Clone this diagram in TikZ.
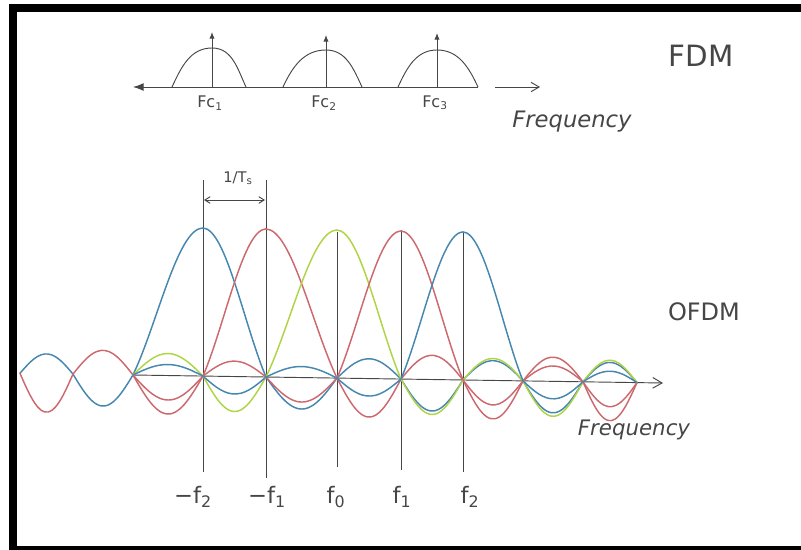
\documentclass[tikz,border=0pt]{standalone}
\usepackage{fontspec}
\setmainfont{DejaVu Sans}
\usetikzlibrary{arrows.meta}
\definecolor{pencil}{RGB}{70,70,70}
\definecolor{sblue}{RGB}{70,135,175}
\definecolor{sred}{RGB}{205,105,110}
\definecolor{sgreen}{RGB}{175,212,70}
\tikzset{
  pencil line/.style={draw=pencil, line width=0.7pt},
  wave/.style={line width=1.1pt, line cap=round, line join=round},
  hand/.style={text=pencil, inner sep=0pt},
  declare function={
    axy(\t)=375+0.0151*(\t-133);
    lobe(\u,\s)=abs(\u)<1 ? 148*sin(180*\u)/(pi*\u) : \s*(28.5*sin(180*abs(\u))-6.5*abs(sin(180*\u)));
  }
}
\begin{document}
\begin{tikzpicture}[x=0.75pt,y=-0.75pt]
\useasboundingbox (0,0) rectangle (801,550);
\draw[pencil line,{Latex[length=8pt,width=6pt]}-] (133,87) -- (478,87);
\draw[pencil line,-{Straight Barb[length=6pt,width=7pt]}] (495,87) -- (540,87);
\foreach \a/\m/\b/\p/\t/\n in {172/212/246/48/32/1,283/326/362/50/35/2,398/437/478/50/33/3}{
  \draw[pencil line] (\a,87) to[out=65,in=180] (\m,\p) to[out=0,in=115] (\b,87);
  \draw[pencil line,-{Latex[length=5pt,width=4pt]}] (\m,87) -- (\m,\t);
  \node[hand,font=\fontsize{12}{14}\selectfont] (fc\n) at (\m-2,103) {Fc\textsubscript{\n}};
}
\node[hand,font=\fontsize{22}{24}\selectfont] (fdm) at (701,56) {FDM};
\node[hand,font=\itshape\fontsize{17}{19}\selectfont] (freqtop) at (572,122) {Frequency};
\foreach \lx/\top/\bot/\nx/\txt [count=\i] in {203/180/472/193/−f\textsubscript{2},266/180/478/267/−f\textsubscript{1},337/232/467/336/f\textsubscript{0},401/230/470/402/f\textsubscript{1},463/233/472/470/f\textsubscript{2}}{
  \draw[pencil line] (\lx,\top) -- (\lx,\bot);
  \node[hand,font=\fontsize{17}{19}\selectfont] (sub\i) at (\nx,497) {\txt};
}
\draw[pencil line,{Straight Barb[length=4pt,width=5pt]}-{Straight Barb[length=4pt,width=5pt]}] (204,200) -- (265,200);
\node[hand,font=\fontsize{11}{13}\selectfont] (ts) at (238,178) {1/T\textsubscript{s}};
\draw[pencil line,-{Straight Barb[length=7pt,width=8pt]}] (133,375) -- (663,383);
\foreach \c/\col/\first/\s in {4/sblue/1/0.9,5/sred/1/1.1,6/sgreen/3/1.0,7/sred/3/0.7,8/sblue/3/0.5}{
  \foreach \k in {\first,...,10}{
    \pgfmathsetmacro\xa{{-40,20,73,133,203,266,337,401,463,523,583,637}[\k]}
    \pgfmathsetmacro\xb{{-40,20,73,133,203,266,337,401,463,523,583,637}[\k+1]}
    \draw[wave,\col] plot[domain=0.001:0.999,samples=16,smooth] ({\xa+\x*(\xb-\xa)},{axy(\xa+\x*(\xb-\xa))-lobe(\k+\x-\c,\s)});
  }
}
\node[hand,font=\fontsize{18}{20}\selectfont] (ofdm) at (704,312) {OFDM};
\node[hand,font=\itshape\fontsize{16}{18}\selectfont] (freqbot) at (634,430) {Frequency};
\fill[black] (9,4) rectangle (17,550);
\fill[black] (9,4) rectangle (801,12);
\fill[black] (9,546) rectangle (801,550);
\end{tikzpicture}
\end{document}
